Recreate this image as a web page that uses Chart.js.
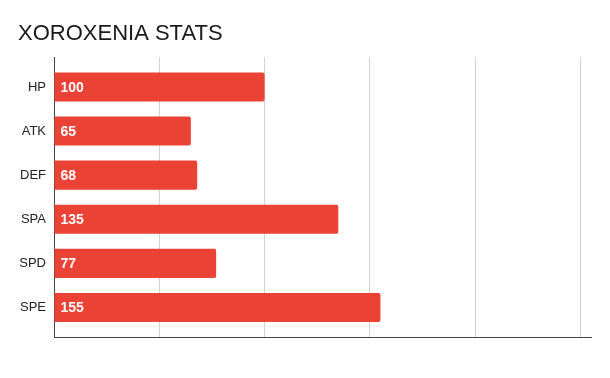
<!DOCTYPE html>
<html lang="en">
<head>
<meta charset="UTF-8">
<title>Xoroxenia Stats</title>
<script src="https://cdn.jsdelivr.net/npm/chart.js"></script>
<style>
  body { margin: 0; background: #fff; }
  .wrap { width: 610px; height: 378px; }
</style>
</head>
<body>
<div class="wrap"><canvas id="statsChart"></canvas></div>
<script>
const chartTitle = 'XOROXENIA STATS';
const stats = ['HP', 'ATK', 'DEF', 'SPA', 'SPD', 'SPE'];
const values = [100, 65, 68, 135, 77, 155];
const gridSteps = [0, 50, 100, 150, 200, 250];

// white value text at the start of each bar
const barLabels = {
    id: 'barLabels',
    afterDatasetsDraw(chart) {
        const ctx = chart.ctx;
        const meta = chart.getDatasetMeta(0);
        ctx.save();
        ctx.font = 'bold 14px "Liberation Sans", Arial, sans-serif';
        ctx.fillStyle = '#ffffff';
        ctx.textBaseline = 'middle';
        meta.data.forEach((bar, i) => {
            ctx.fillText(values[i], bar.base + 6, bar.y + 1);
        });
        ctx.restore();
    }
};

new Chart(document.getElementById('statsChart'), {
    type: 'bar',
    data: {
        datasets: [{
            data: values.map((v, i) => ({ x: v, y: i })),
            backgroundColor: '#ea4335',
            borderRadius: 2,
            borderSkipped: 'start',
            barPercentage: 0.66,
            categoryPercentage: 1
        }]
    },
    options: {
        indexAxis: 'y',
        responsive: true,
        maintainAspectRatio: false,
        animation: false,
        layout: { padding: { left: 18, right: 19, top: 0, bottom: 41 } },
        plugins: {
            legend: { display: false },
            tooltip: { enabled: false },
            title: {
                display: true,
                text: chartTitle,
                align: 'start',
                color: '#1a1a1a',
                font: { family: '"Liberation Sans", Arial, sans-serif', size: 22, weight: 'normal' },
                padding: { top: 21, bottom: 10 }
            }
        },
        scales: {
            x: {
                type: 'linear',
                min: 0,
                max: 255,
                afterBuildTicks: (scale) => { scale.ticks = gridSteps.map(v => ({ value: v })); },
                ticks: { display: false },
                grid: { color: '#d3d3d3', drawTicks: false },
                border: { color: '#444444', width: 1 }
            },
            y: {
                type: 'linear',
                reverse: true,
                offset: false,
                min: -0.67,
                max: 5.67,
                afterBuildTicks: (scale) => { scale.ticks = stats.map((s, i) => ({ value: i })); },
                afterFit: (scale) => { scale.width = 36; },
                ticks: {
                    autoSkip: false,
                    padding: 8,
                    color: '#222222',
                    font: { family: '"Liberation Sans", Arial, sans-serif', size: 13 },
                    callback: (v) => stats[v]
                },
                grid: { display: false, drawTicks: false, offset: false },
                border: { color: '#444444', width: 1 }
            }
        }
    },
    plugins: [barLabels]
});
</script>
</body>
</html>
